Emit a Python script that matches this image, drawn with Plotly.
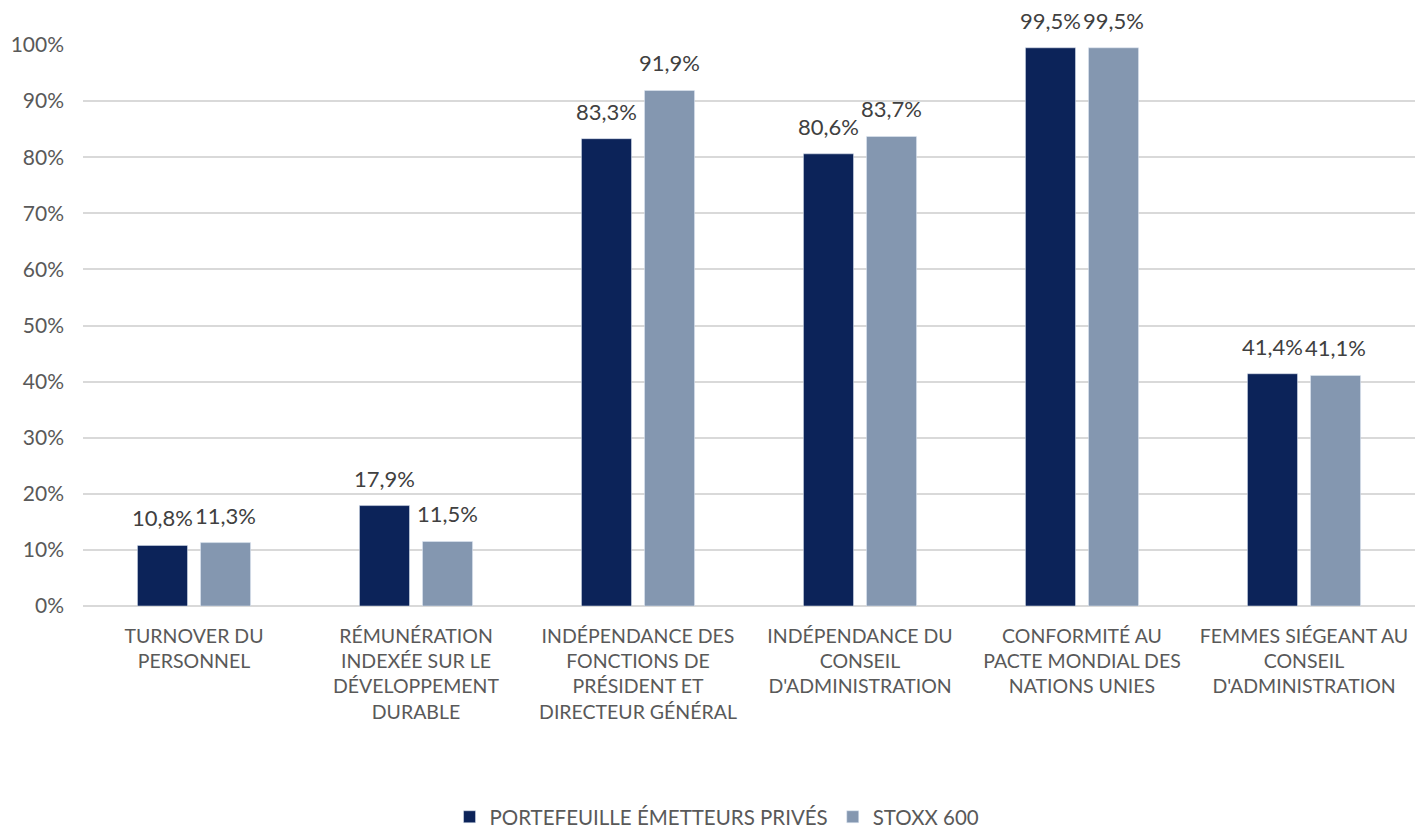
import plotly.graph_objects as go

categories = [
    "TURNOVER DU<br>PERSONNEL",
    "RÉMUNÉRATION<br>INDEXÉE SUR LE<br>DÉVELOPPEMENT<br>DURABLE",
    "INDÉPENDANCE DES<br>FONCTIONS DE<br>PRÉSIDENT ET<br>DIRECTEUR GÉNÉRAL",
    "INDÉPENDANCE DU<br>CONSEIL<br>D'ADMINISTRATION",
    "CONFORMITÉ AU<br>PACTE MONDIAL DES<br>NATIONS UNIES",
    "FEMMES SIÉGEANT AU<br>CONSEIL<br>D'ADMINISTRATION",
]
portefeuille = [10.8, 17.9, 83.3, 80.6, 99.5, 41.4]
stoxx600 = [11.3, 11.5, 91.9, 83.7, 99.5, 41.1]
y_ticks = list(range(0, 101, 10))
y_tick_labels = [f"{v}%" for v in y_ticks]

FONT = "Lato, 'Open Sans', sans-serif"
series = [
    ("PORTEFEUILLE ÉMETTEURS PRIVÉS", portefeuille, "#0c2359", -31.5),
    ("STOXX 600", stoxx600, "#8497b0", 31.5),
]

fig = go.Figure()
for name, values, color, _ in series:
    fig.add_trace(go.Bar(name=name, x=categories, y=values, marker=dict(color=color)))

# value labels above each bar (decimal comma)
for _, values, _, dx in series:
    for cat, v in zip(categories, values):
        fig.add_annotation(
            x=cat, y=v, xref="x", yref="y", xshift=dx, yshift=12,
            yanchor="bottom", showarrow=False,
            text=f"{v:.1f}%".replace(".", ","),
            font=dict(family=FONT, size=22, color="#404040"),
        )

fig.update_layout(
    width=1426, height=828,
    margin=dict(l=83, r=11, t=45, b=222, autoexpand=False),
    paper_bgcolor="white", plot_bgcolor="white",
    barmode="group", bargap=0.432, bargroupgap=0.206,
    font=dict(family=FONT, color="#595959", size=18),
    legend=dict(orientation="h", x=0.476, xanchor="center", y=-0.376, yanchor="middle",
                font=dict(size=20.5, color="#595959"), traceorder="normal"),
    showlegend=True,
)
fig.update_xaxes(tickfont=dict(size=19.5, color="#595959"), showline=False, ticks="",
                 tickangle=0, automargin=False, ticklabelstandoff=16)
fig.update_yaxes(range=[0, 100], tickvals=y_ticks, ticktext=y_tick_labels,
                 showgrid=True, gridcolor="#d9d9d9", gridwidth=1.5,
                 zeroline=True, zerolinecolor="#d9d9d9", zerolinewidth=1.5,
                 tickfont=dict(size=21, color="#595959"), ticks="",
                 ticklabelstandoff=18, automargin=False)

fig.write_html("out.html")
